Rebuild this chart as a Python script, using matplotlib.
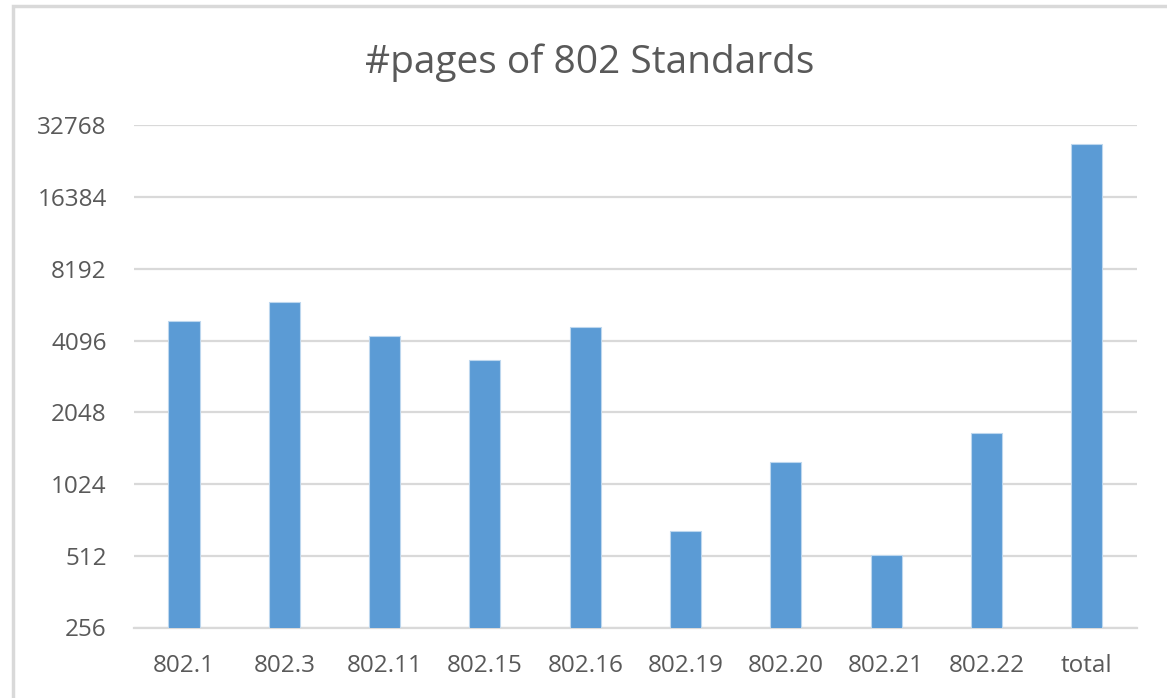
import matplotlib.pyplot as plt
from matplotlib.patches import Rectangle
from matplotlib.ticker import FixedLocator, FixedFormatter, NullLocator

# values (log2 y axis)
standards = ["802.1", "802.3", "802.11", "802.15", "802.16",
             "802.19", "802.20", "802.21", "802.22", "total"]
pages = [4970, 5930, 4270, 3405, 4670, 648, 1272, 517, 1670, 27340]
yticks = [256, 512, 1024, 2048, 4096, 8192, 16384, 32768]

plt.rcParams['font.family'] = ['Open Sans', 'DejaVu Sans']

W, H = 1167, 698
fig = plt.figure(figsize=(W / 100, H / 100), dpi=100)
ax = fig.add_axes([133.8 / W, (H - 627.5) / H, (1137 - 133.8) / W, (627.5 - 125.3) / H])

x = list(range(len(standards)))
ax.bar(x, pages, width=0.31, color="#5B9BD5", edgecolor="#BDD7EE", linewidth=0.8, zorder=3)

ax.set_yscale("log", base=2)
ax.set_ylim(256, 32768)
ax.set_xlim(-0.5, len(standards) - 0.5)
ax.yaxis.set_major_locator(FixedLocator(yticks))
ax.yaxis.set_major_formatter(FixedFormatter([str(t) for t in yticks]))
ax.yaxis.set_minor_locator(NullLocator())
ax.set_xticks(x)
ax.set_xticklabels(standards)

ax.grid(axis="y", color="#D9D9D9", linewidth=1.6, zorder=0)
for s in ["top", "right", "left"]:
    ax.spines[s].set_visible(False)
ax.spines["bottom"].set_color("#D9D9D9")
ax.spines["bottom"].set_linewidth(1.6)
ax.tick_params(axis="both", length=0, labelsize=17.5, colors="#595959")
ax.tick_params(axis="x", pad=19)
ax.tick_params(axis="y", pad=19.5)

fig.text(590 / W, (H - 73) / H, "#pages of 802 Standards", ha="center", va="baseline",
         fontsize=28, color="#595959")

# chart area border
fig.patches.append(Rectangle((12.5 / W, -0.1), 1.2, (H - 6.5) / H + 0.1,
                             transform=fig.transFigure, fill=False,
                             edgecolor="#D9D9D9", linewidth=2.5))

fig.savefig("out.png", dpi=100)
